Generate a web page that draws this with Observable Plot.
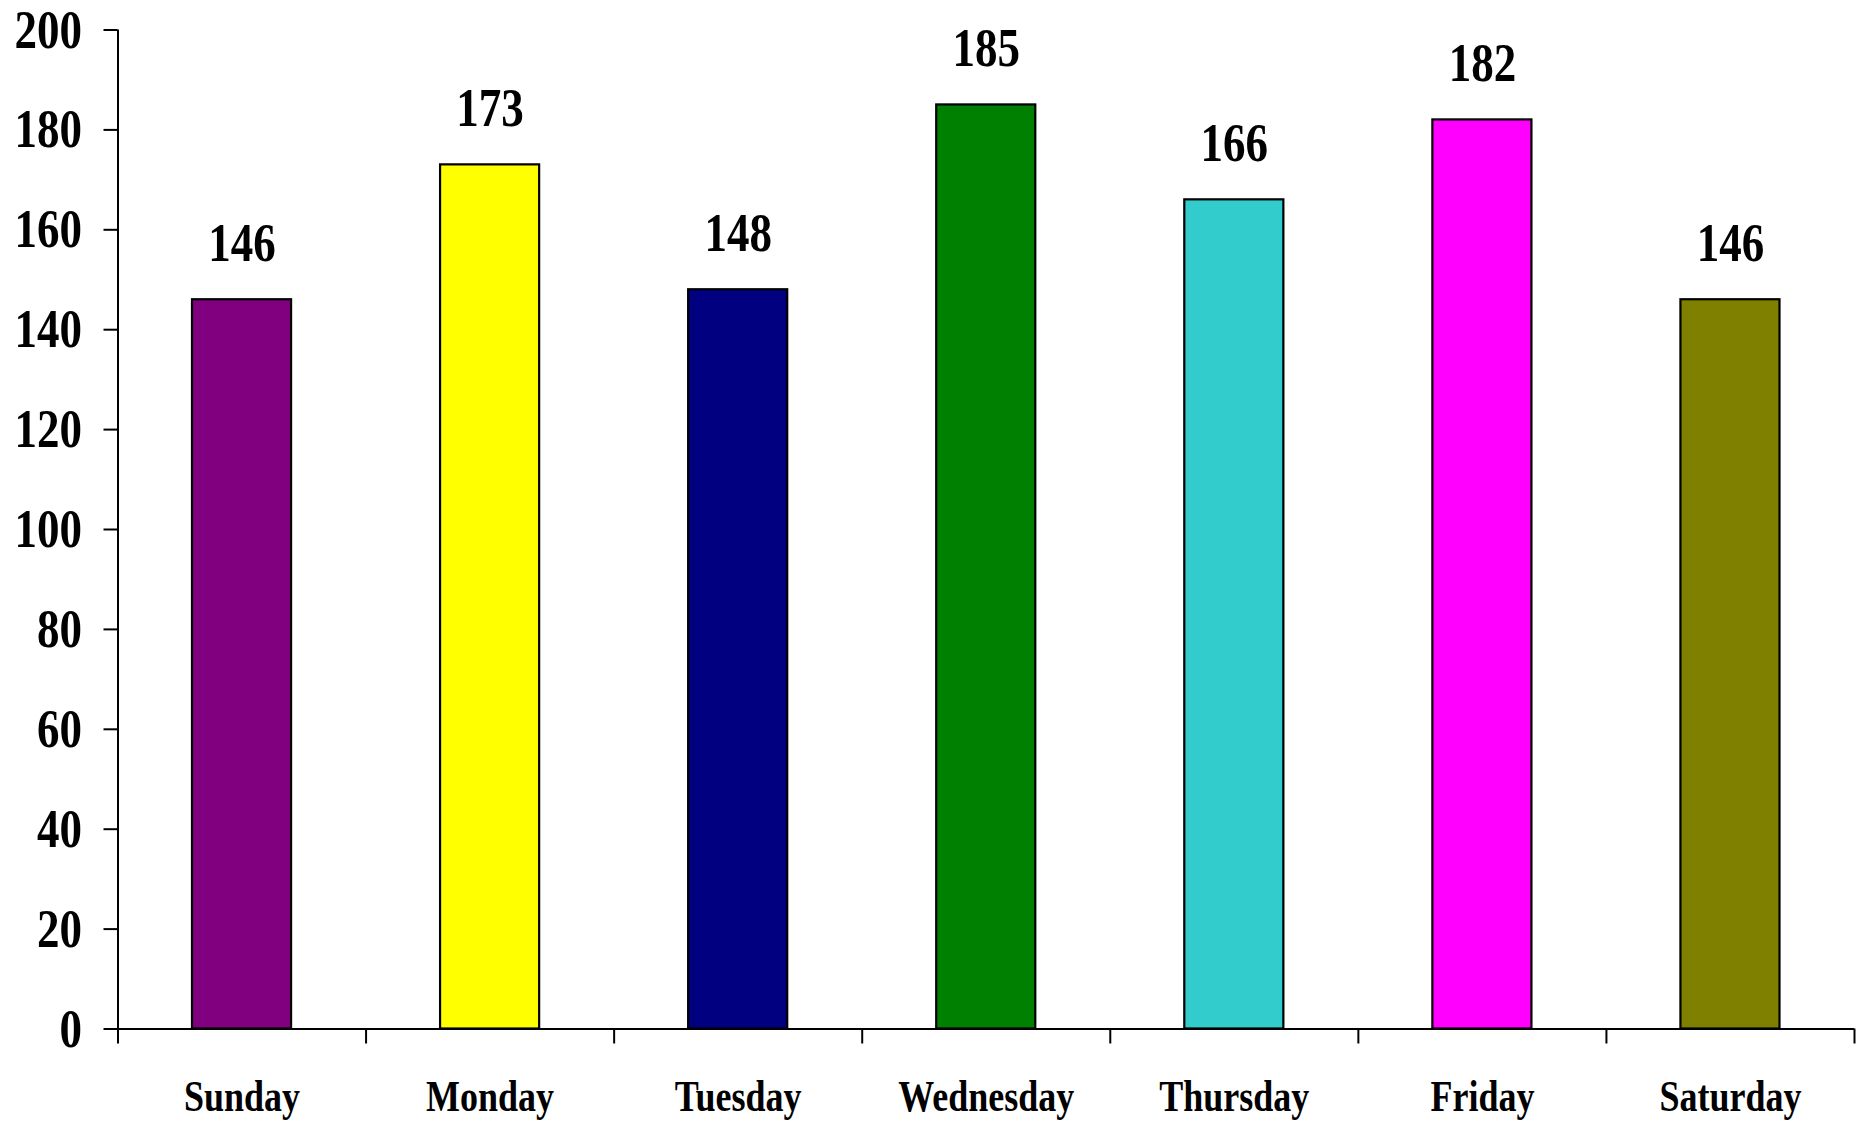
<!DOCTYPE html>
<html>
<head>
<meta charset="utf-8">
<script src="https://cdn.jsdelivr.net/npm/d3@7"></script>
<script src="https://cdn.jsdelivr.net/npm/@observablehq/plot@0.6"></script>
<style>
  html, body { margin: 0; padding: 0; background: #ffffff; }
  #chart svg { display: block; }
</style>
</head>
<body>
<div id="chart"></div>
<script>
const days = ["Sunday", "Monday", "Tuesday", "Wednesday", "Thursday", "Friday", "Saturday"];
const values = [146, 173, 148, 185, 166, 182, 146];
const colors = ["#800080", "#FFFF00", "#000080", "#008000", "#33CCCC", "#FF00FF", "#808000"];
const yTicks = [0, 20, 40, 60, 80, 100, 120, 140, 160, 180, 200];

const data = days.map((day, i) => ({ day, i, value: values[i], color: colors[i] }));
const boundaries = d3.range(days.length + 1);

const font = "'Liberation Serif', 'Times New Roman', serif";

const svg = Plot.plot({
  width: 1866,
  height: 1123,
  marginLeft: 117.5,
  marginRight: 12,
  marginTop: 29.5,
  marginBottom: 94.5,
  style: { fontFamily: font, fontWeight: "bold", background: "#ffffff", color: "#000000" },
  x: { type: "linear", domain: [0, days.length], axis: null },
  y: { domain: [0, 200], axis: null },
  marks: [
    Plot.rectY(data, {
      x1: "i", x2: d => d.i + 1, y1: 0, y2: "value",
      fill: "color", stroke: "#000000", strokeWidth: 2.2,
      insetLeft: 74.5, insetRight: 74.5
    }),
    Plot.ruleX([0], { stroke: "#000000", strokeWidth: 2 }),
    Plot.ruleY([0], { stroke: "#000000", strokeWidth: 2 }),
    Plot.axisY(yTicks, {
      label: null,
      tickSize: 14, tickPadding: 22, strokeWidth: 2,
      fontSize: 45, fontWeight: "bold", fill: "#000000",
      tickFormat: d => String(d)
    }),
    Plot.axisX(boundaries, {
      label: null,
      tickSize: 15, strokeWidth: 2, tickFormat: () => ""
    }),
    Plot.text(data, {
      x: d => d.i + 0.5, y: "value", text: d => String(d.value),
      lineAnchor: "middle", dy: -56, fontSize: 45, fontWeight: "bold", fill: "#000000"
    }),
    Plot.text(data, {
      x: d => d.i + 0.5, y: () => 0, text: "day",
      lineAnchor: "middle", dy: 68, fontSize: 36, fontWeight: "bold", fill: "#000000"
    })
  ]
});

// Stretch glyphs vertically to mimic the reference's tall, narrow lettering
svg.querySelectorAll("text").forEach(t => {
  const tr = t.getAttribute("transform");
  if (tr) {
    t.setAttribute("transform", tr + " scale(1,1.22)");
  } else {
    const x = +(t.getAttribute("x") || 0), y = +(t.getAttribute("y") || 0);
    t.setAttribute("transform", `translate(${x},${y}) scale(1,1.22) translate(${-x},${-y})`);
  }
});

document.getElementById("chart").appendChild(svg);
</script>
</body>
</html>
